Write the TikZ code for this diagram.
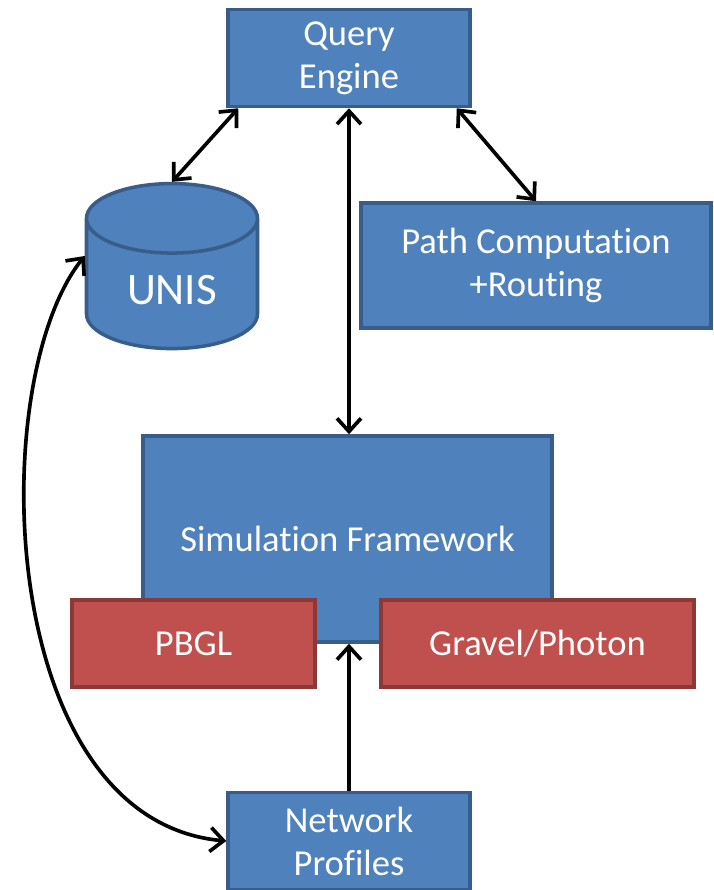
\documentclass[tikz,border=0pt]{standalone}
\usepackage{fontspec}
\setmainfont{Carlito}[Ligatures=NoCommon]
\usetikzlibrary{shapes.geometric,arrows.meta}

\definecolor{boxblue}{HTML}{4F81BD}
\definecolor{edgeblue}{HTML}{385D8A}
\definecolor{boxred}{HTML}{C0504D}
\definecolor{edgered}{HTML}{8C3836}

\tikzset{
  bluebox/.style={rectangle, draw=edgeblue, fill=boxblue, line width=2.5pt, text=white, align=center, font=\fontsize{26}{30.5}\selectfont},
  redbox/.style={rectangle, draw=edgered, fill=boxred, line width=2.5pt, text=white, align=center, font=\fontsize{26}{30.5}\selectfont},
  link/.style={line width=2.6pt, {Straight Barb[length=3.3mm,width=6mm]}-{Straight Barb[length=3.3mm,width=6mm]}},
  feed/.style={line width=2.6pt, -{Straight Barb[length=3.3mm,width=6mm]}}
}

\begin{document}
\begin{tikzpicture}

\useasboundingbox (0,0) rectangle (17.85,-22.25);

% Query Engine at the top
\node (query_engine) [bluebox, minimum width=6.05cm, minimum height=2.425cm] at (8.725,-1.45) {Query\\Engine};

% UNIS data store
\node (unis) [cylinder, shape border rotate=90, aspect=0.7, draw=edgeblue, fill=boxblue, line width=2.5pt, text=white, font=\fontsize{32}{36}\selectfont, minimum width=4.275cm, minimum height=4.125cm] at (4.3,-7.25) {UNIS};

% Path Computation right of UNIS
\node (path_computation) [bluebox, minimum width=8.75cm, minimum height=3.125cm] at (13.4,-6.6375) {Path Computation\\+Routing};

% Simulation Framework
\node (simulation) [bluebox, minimum width=10.225cm, minimum height=5.15cm] at (8.6875,-13.475) {Simulation Framework};

% PBGL and Gravel/Photon over the bottom of the framework
\node (pbgl) [redbox, minimum width=6.075cm, minimum height=2.175cm] at (4.8375,-16.0875) {PBGL};
\node (gravel) [redbox, minimum width=7.825cm, minimum height=2.175cm] at (13.4375,-16.0875) {Gravel/Photon};

% Network Profiles at the bottom
\node (network_profiles) [bluebox, minimum width=6.05cm, minimum height=2.425cm] at (8.725,-21.025) {Network\\Profiles};

% Arrows
\draw[link] ([xshift=0.3cm]query_engine.south west) -- (unis.north);
\draw[link] ([xshift=-0.375cm]query_engine.south east) -- (path_computation.north);
\draw[link] (query_engine.south) -- (query_engine.south |- simulation.north);
\draw[feed] (network_profiles.north) -- (network_profiles.north |- simulation.south);
\draw[link] ([yshift=0.85cm]unis.west) .. controls (-0.375,-9.5) and (-0.125,-20.5) .. (network_profiles.west);

\end{tikzpicture}
\end{document}
